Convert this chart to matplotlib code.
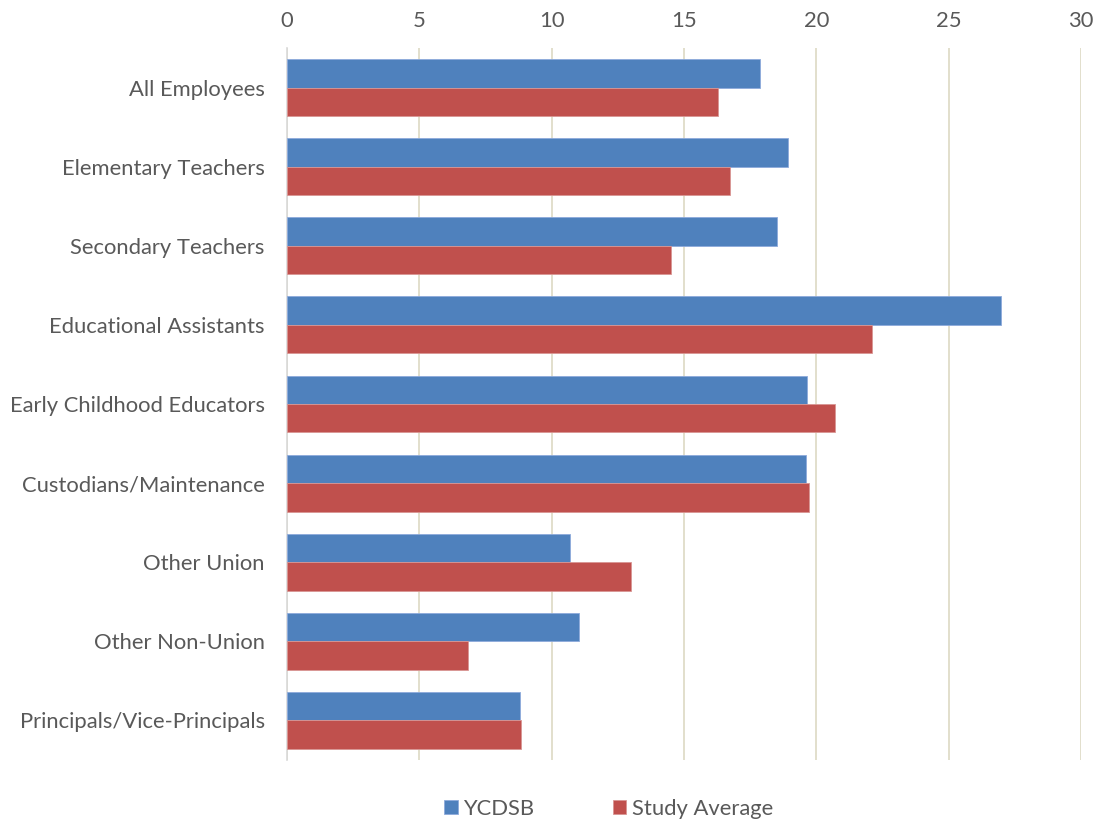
import numpy as np
import matplotlib.pyplot as plt

# Категории и значения по двум рядам
categories = ['All Employees', 'Elementary Teachers', 'Secondary Teachers',
              'Educational Assistants', 'Early Childhood Educators',
              'Custodians/Maintenance', 'Other Union', 'Other Non-Union',
              'Principals/Vice-Principals']
ycdsb = [17.87, 18.93, 18.51, 26.97, 19.65, 19.60, 10.69, 11.03, 8.80]
study_avg = [16.28, 16.74, 14.51, 22.10, 20.70, 19.72, 13.00, 6.84, 8.84]
x_ticks = [0, 5, 10, 15, 20, 25, 30]

plt.rcParams['font.family'] = ['Lato', 'DejaVu Sans']

fig = plt.figure(figsize=(10.93, 8.22), dpi=100)
ax = fig.add_axes([0.2626, 0.0755, 0.7264, 0.866])

y = np.arange(len(categories))
h = 0.36
ax.barh(y - h / 2, ycdsb, height=h, color='#4F81BD', edgecolor='#8EAADB',
        linewidth=0.6, label='YCDSB', zorder=3)
ax.barh(y + h / 2, study_avg, height=h, color='#C0504D', edgecolor='#D99694',
        linewidth=0.6, label='Study Average', zorder=3)

ax.set_ylim(len(categories) - 0.5, -0.5)
ax.set_xlim(0, 30)
ax.set_xticks(x_ticks)
ax.xaxis.tick_top()
ax.set_yticks(y)
ax.set_yticklabels(categories)
ax.tick_params(axis='both', length=0, labelsize=15.8, colors='#595959')
ax.tick_params(axis='x', pad=12)
ax.tick_params(axis='y', pad=16)

ax.grid(axis='x', color='#DDD9C3', linewidth=1.2, zorder=0)
for s in ['top', 'right', 'bottom']:
    ax.spines[s].set_visible(False)
ax.spines['left'].set_color('#D9D9D9')
ax.spines['left'].set_linewidth(1.2)

fig.legend(loc='lower center', bbox_to_anchor=(0.557, -0.02), ncol=2,
           frameon=False, fontsize=15.8, handlelength=0.6, handleheight=0.6,
           columnspacing=3.6, handletextpad=0.25, labelcolor='#595959')

plt.savefig('out.png', dpi=100)
